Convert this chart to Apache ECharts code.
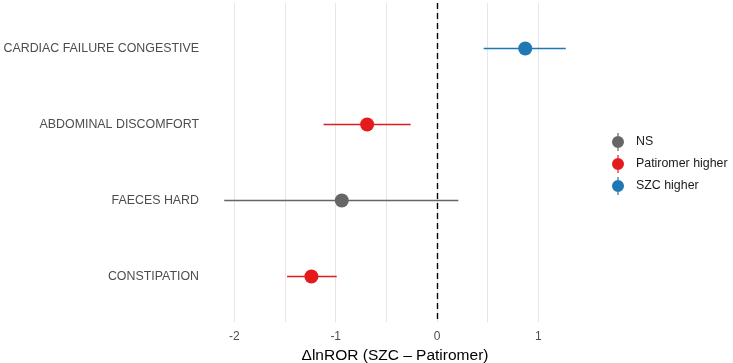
<!DOCTYPE html>
<html>
<head>
<meta charset="utf-8">
<script src="https://cdn.jsdelivr.net/npm/echarts@6/dist/echarts.min.js"></script>
<style>
  html, body { margin: 0; background: #fff; }
  #chart { width: 733px; height: 363px; }
</style>
</head>
<body>
<div id="chart"></div>
<script>
// adverse event terms, top to bottom
var terms = ["CARDIAC FAILURE CONGESTIVE", "ABDOMINAL DISCOMFORT", "FAECES HARD", "CONSTIPATION"];
var estimates = [0.87, -0.69, -0.94, -1.24];
var lower = [0.46, -1.12, -2.10, -1.48];
var upper = [1.27, -0.26, 0.21, -0.99];
var groups = ["SZC higher", "Patiromer higher", "NS", "Patiromer higher"];
var groupNames = ["NS", "Patiromer higher", "SZC higher"];
var groupColors = ["#666666", "#E41A1C", "#1F78B4"];
var xTickLabels = [-2, -1, 0, 1];
var xGridValues = [-2, -1.5, -1, -0.5, 0, 0.5, 1];
var refValue = 0;

var font = "Liberation Sans, Arial, sans-serif";
var keyIcon = "path://M0,9a6,6 0 1,0 12,0a6,6 0 1,0 -12,0z M5.4,0h1.2v3h-1.2z M5.4,15h1.2v3h-1.2z";

// error bar rows: [low, high, row, colour index]
var barData = terms.map(function (t, i) {
  return [lower[i], upper[i], i + 1, groupNames.indexOf(groups[i])];
});

var series = [
  {
    type: "custom",
    silent: true,
    encode: { x: [0, 1], y: 2 },
    data: barData,
    renderItem: function (params, api) {
      var a = api.coord([api.value(0), api.value(2)]);
      var b = api.coord([api.value(1), api.value(2)]);
      return {
        type: "line",
        shape: { x1: a[0], y1: a[1], x2: b[0], y2: b[1] },
        style: { stroke: groupColors[api.value(3)], lineWidth: 1.5 }
      };
    },
    markLine: {
      silent: true,
      symbol: "none",
      label: { show: false },
      lineStyle: { color: "#000", type: [6, 4], width: 1.4 },
      data: [{ xAxis: refValue }]
    },
    z: 2
  }
];

groupNames.forEach(function (g, gi) {
  var pts = [];
  terms.forEach(function (t, i) {
    if (groups[i] === g) pts.push([estimates[i], i + 1]);
  });
  series.push({
    name: g,
    type: "scatter",
    symbol: "circle",
    symbolSize: 14,
    itemStyle: { color: groupColors[gi], opacity: 1 },
    data: pts,
    z: 3
  });
});

var chart = echarts.init(document.getElementById("chart"));
chart.setOption({
  animation: false,
  backgroundColor: "#fff",
  textStyle: { fontFamily: font },
  grid: { left: 207, right: 150, top: 3, bottom: 41, outerBoundsMode: "none" },
  legend: {
    data: groupNames,
    orient: "vertical",
    left: 607,
    top: 128,
    icon: keyIcon,
    itemWidth: 12,
    itemHeight: 18,
    itemGap: 4,
    textStyle: { fontSize: 12.4, color: "#1a1a1a", fontFamily: font, padding: [0, 0, 0, 7] }
  },
  xAxis: {
    type: "value",
    min: -2.27,
    max: 1.44,
    name: "\u0394lnROR (SZC \u2013 Patiromer)",
    nameLocation: "middle",
    nameGap: 20,
    nameTextStyle: { fontSize: 15.5, color: "#000", fontFamily: font },
    axisLine: { show: false },
    axisTick: { show: false, customValues: xGridValues },
    axisLabel: {
      customValues: xTickLabels,
      margin: 9,
      fontSize: 12,
      color: "#4D4D4D"
    },
    splitLine: { show: true, lineStyle: { color: "#E6E6E6", width: 1 } }
  },
  yAxis: {
    type: "value",
    inverse: true,
    min: 0.4,
    max: 4.6,
    axisLine: { show: false },
    axisTick: { show: false },
    splitLine: { show: false },
    axisLabel: {
      customValues: [1, 2, 3, 4],
      margin: 8,
      fontSize: 12.4,
      color: "#4D4D4D",
      formatter: function (v) { return terms[Math.round(v) - 1]; }
    }
  },
  series: series
});
</script>
</body>
</html>
